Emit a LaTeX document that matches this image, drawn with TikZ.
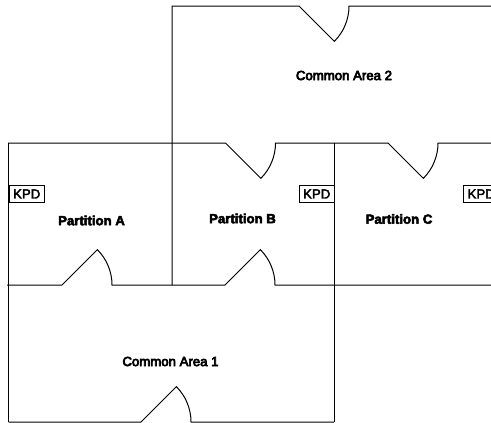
\documentclass[tikz,border=0pt]{standalone}
\usepackage{fontspec}
\setmainfont{Liberation Sans}
\newcommand{\heavy}[2]{\special{pdf:code q #1 w 2 Tr}#2\special{pdf:code Q}}
\newcommand{\doorup}[2]{-- (#1,#2) -- ++(45:50) arc[start angle=45,end angle=0,radius=50]}
\newcommand{\doordown}[2]{-- (#1,#2) -- ++(-45:50) arc[start angle=-45,end angle=0,radius=50]}
\tikzset{
  wall/.style={draw=black,line width=1pt},
  roomlabel/.style={inner sep=0pt,font=\fontsize{13.2}{15}\selectfont\bfseries},
  arealabel/.style={inner sep=0pt,font=\fontsize{13.2}{15}\selectfont},
  kpdbox/.style={draw=black,line width=0.9pt,fill=white,inner sep=0pt,minimum width=35.5pt,minimum height=17pt,font=\fontsize{13.2}{15}\selectfont}
}
\begin{document}
\begin{tikzpicture}[x=1pt,y=-1pt]
\useasboundingbox (0,0) rectangle (491,423);
\clip (0,0) rectangle (491,423);
\fill[white] (0,0) rectangle (491,423);
% common area 2
\draw[wall] (172,285) -- (172,6) \doorup{299}{6} -- (491,6);
% wall between common area 2 and the partitions
\draw[wall] (8,143) \doorup{225.5}{143} -- (388,143);
\draw[wall] (388,143) -- ++(45:50) arc[start angle=45,end angle=0,radius=50] -- (491,143);
% outer walls
\draw[wall] (8.5,143) -- (8.5,422);
\draw[wall] (334,143) -- (334,422);
% partition front wall
\draw[wall] (7,285) \doordown{62}{285} -- (225,285);
\draw[wall] (225,285) -- ++(-45:50) arc[start angle=-45,end angle=0,radius=50] -- (491,285);
% common area 1 bottom wall
\draw[wall] (8.5,422) \doordown{141}{422} -- (334,422);
% KPD boxes
\node[kpdbox,anchor=north west] (kpda) at (8.5,185) {\heavy{0.4}{KPD}};
\node[kpdbox,anchor=north west] (kpdb) at (298.5,185) {\heavy{0.4}{KPD}};
\node[kpdbox,anchor=north west] (kpdc) at (462.5,185) {\hspace{1pt}\heavy{0.4}{KPD}};
% labels
\node[arealabel] (ca2) at (344,75.5) {\heavy{0.7}{Common Area 2}};
\node[arealabel] (ca1) at (170.5,361.5) {\heavy{0.7}{Common Area 1}};
\node[roomlabel] (pa) at (91.5,220.5) {\heavy{0.5}{Partition A}};
\node[roomlabel] (pb) at (242.5,218.5) {\heavy{0.5}{Partition B}};
\node[roomlabel] (pc) at (399,219) {\heavy{0.5}{Partition C}};
\end{tikzpicture}
\end{document}
